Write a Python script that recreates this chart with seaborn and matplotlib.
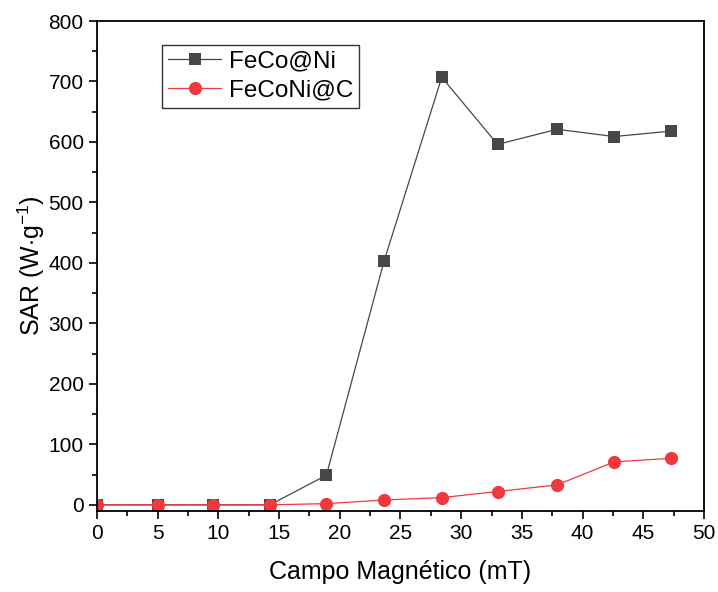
import numpy as np
import matplotlib
matplotlib.use("Agg")
import matplotlib.pyplot as plt
import pandas as pd
import seaborn as sns
from matplotlib.ticker import MultipleLocator

# datos
campo = [0, 5.0, 9.55, 14.25, 18.9, 23.65, 28.4, 33.0, 37.9, 42.6, 47.3]
sar_feco_ni = [0, 0, 0, 0, 49, 403, 707, 596, 621, 609, 618]
sar_feconi_c = [0, 0, 0, 0, 2, 8, 12, 22, 33, 71, 77]
series = ["FeCo@Ni", "FeCoNi@C"]

df = pd.DataFrame({
    "campo": campo * 2,
    "sar": sar_feco_ni + sar_feconi_c,
    "muestra": [series[0]] * len(campo) + [series[1]] * len(campo),
})

sns.set_style("ticks")
plt.rcParams["font.family"] = ["Liberation Sans", "DejaVu Sans"]
plt.rcParams["mathtext.fontset"] = "custom"
plt.rcParams["mathtext.rm"] = "Liberation Sans"
plt.rcParams["mathtext.it"] = "Liberation Sans"
plt.rcParams["text.color"] = "black"
plt.rcParams["axes.labelcolor"] = "black"
plt.rcParams["xtick.color"] = "black"
plt.rcParams["ytick.color"] = "black"

fig = plt.figure(figsize=(7.18, 5.92), dpi=100)
ax = fig.add_axes([0.135, 0.137, 0.8455, 0.8275])

sns.lineplot(data=df, x="campo", y="sar", hue="muestra", style="muestra",
             palette={"FeCo@Ni": "#474747", "FeCoNi@C": "#f0393f"},
             markers={"FeCo@Ni": "s", "FeCoNi@C": "o"},
             dashes=False, markersize=8, linewidth=0.9,
             markeredgewidth=0, ax=ax)
# el circulo se ve un poco mas grande
for ln in ax.lines:
    if ln.get_marker() == "o":
        ln.set_markersize(9.5)

ax.set_xlim(0, 50)
ax.set_ylim(-10, 800)
ax.xaxis.set_major_locator(MultipleLocator(5))
ax.xaxis.set_minor_locator(MultipleLocator(2.5))
ax.yaxis.set_major_locator(MultipleLocator(100))
ax.yaxis.set_minor_locator(MultipleLocator(50))
ax.tick_params(which="major", direction="out", length=6, width=1.2, labelsize=15)
ax.tick_params(which="minor", direction="out", length=3.5, width=1.2)
for s in ax.spines.values():
    s.set_visible(True)
    s.set_linewidth(1.3)
    s.set_color("black")

ax.set_xlabel("Campo Magnético (mT)", fontsize=18, labelpad=12)
ax.set_ylabel(r"SAR (W$\cdot$g$^{\mathrm{-1}}$)", fontsize=18, labelpad=1)

leg = ax.legend(loc="upper left", bbox_to_anchor=(0.107, 0.952), fontsize=17.5,
                frameon=True, fancybox=False, edgecolor="black",
                handlelength=2.2, borderpad=0.25, labelspacing=0.3,
                handletextpad=0.3, borderaxespad=0, title=None)
leg.get_frame().set_linewidth(1.0)

fig.savefig("out.png", dpi=100)
